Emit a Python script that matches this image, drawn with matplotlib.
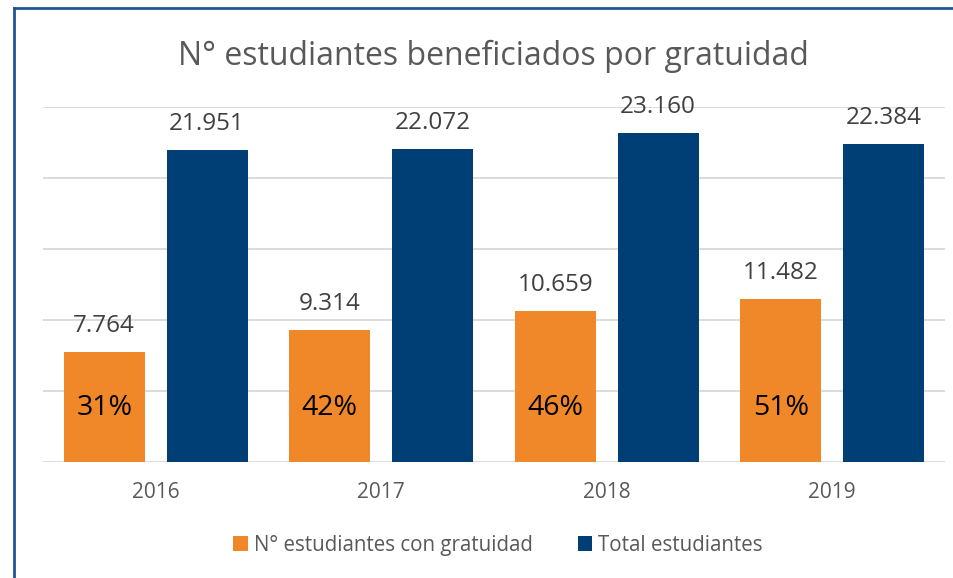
import numpy as np
import matplotlib.pyplot as plt
from matplotlib.lines import Line2D

plt.rcParams["font.family"] = ["Open Sans", "DejaVu Sans"]

# ── Data ──────────────────────────────────────────────────────────────────────
years = ["2016", "2017", "2018", "2019"]
con_gratuidad = [7764, 9314, 10659, 11482]
total_estudiantes = [21951, 22072, 23160, 22384]
pct_labels = ["31%", "42%", "46%", "51%"]

ORANGE = "#F0882A"
NAVY = "#003F75"
GRID = "#D9D9D9"
TEXT = "#404040"

def fmt_miles(v):
    return f"{v:,}".replace(",", ".")

# ── Figure ────────────────────────────────────────────────────────────────────
fig = plt.figure(figsize=(9.54, 5.78), dpi=100)
ax = fig.add_axes([0.045, 0.2007, 0.9456, 0.6142])

x = np.arange(len(years))
w = 0.36
off = 0.228
b1 = ax.bar(x - off, con_gratuidad, w, color=ORANGE, label="N° estudiantes con gratuidad", zorder=3)
b2 = ax.bar(x + off, total_estudiantes, w, color=NAVY, label="Total estudiantes", zorder=3)

for rect, v in zip(b1, con_gratuidad):
    ax.annotate(fmt_miles(v), (rect.get_x() + rect.get_width() / 2, v),
                xytext=(0, 10), textcoords="offset points",
                ha="center", va="bottom", fontsize=17.5, color=TEXT)
for rect, v in zip(b2, total_estudiantes):
    ax.annotate(fmt_miles(v), (rect.get_x() + rect.get_width() / 2, v),
                xytext=(0, 10), textcoords="offset points",
                ha="center", va="bottom", fontsize=17.5, color=TEXT)
for rect, p in zip(b1, pct_labels):
    ax.text(rect.get_x() + rect.get_width() / 2, 3800, p,
            ha="center", va="center", fontsize=20.5, color="black", zorder=4)

ax.set_xlim(-0.5, len(years) - 0.5)
ax.set_ylim(0, 25000)
ax.set_yticks(np.arange(0, 25001, 5000))
ax.yaxis.grid(True, color=GRID, linewidth=1.3, zorder=0)
ax.tick_params(axis="y", left=False, labelleft=False)
ax.tick_params(axis="x", bottom=False, labelsize=15, labelcolor="#595959", pad=11)
ax.set_xticks(x)
ax.set_xticklabels(years)
for s in ["top", "right", "left", "bottom"]:
    ax.spines[s].set_visible(False)

fig.text(0.517, 0.903, "N° estudiantes beneficiados por gratuidad",
         ha="center", va="center", fontsize=23, color="#595959")

fig.legend(loc="center", bbox_to_anchor=(0.522, 0.057), ncol=2, frameon=False,
           fontsize=14.8, labelcolor="#595959", handlelength=0.7, handleheight=0.7,
           handletextpad=0.3, columnspacing=2.2)

# ── Frame lines (left and top) ────────────────────────────────────────────────
fig.add_artist(Line2D([0.0147, 0.0147], [0.0, 0.986], transform=fig.transFigure,
                      color="#1F5591", linewidth=2))
fig.add_artist(Line2D([0.0147, 1.0], [0.986, 0.986], transform=fig.transFigure,
                      color="#1F5591", linewidth=2))

fig.savefig("out.png", dpi=100, facecolor="white")
